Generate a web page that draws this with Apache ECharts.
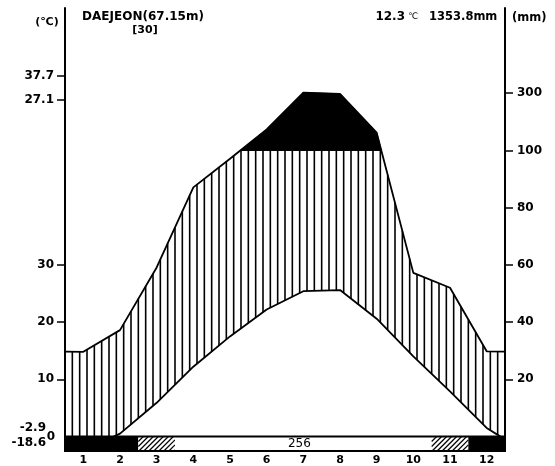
<!DOCTYPE html>
<html><head><meta charset="utf-8">
<script src="https://cdn.jsdelivr.net/npm/echarts@6/dist/echarts.min.js"></script>
<style>html,body{margin:0;padding:0;background:#fff}#c{width:555px;height:466px}</style>
</head><body><div id="c"></div>
<script>
// ---- data ----
const months = ['1','2','3','4','5','6','7','8','9','10','11','12'];
const temperature = [-2.5, 0.5, 5.9, 12.2, 17.5, 22.2, 25.4, 25.6, 20.6, 14.0, 7.9, 1.5];
const precipitation = [29.6, 37.2, 59.1, 87.1, 97.1, 173.4, 301.7, 298.0, 162.0, 57.2, 52.0, 29.8];
const frostClass = [2, 2, 1, 0, 0, 0, 0, 0, 0, 0, 1, 2]; // 2 = certain frost, 1 = probable frost
const frostFreeDays = '256';
const tempTicks = [10, 20, 30];
const precipTicks = [20, 40, 60, 80, 100, 300];
const tempHighLabels = ['37.7', '27.1'];
const tempLowLabels = ['-2.9', '-18.6'];
const station = 'DAEJEON(67.15m)';
const years = '[30]';
const annualTemp = '12.3';
const annualPrecip = '1353.8';

// ---- layout helpers ----
const Y_MIN = -2.53, Y_MAX = 74.9;
const highSlots = [63.0, 58.9];
const lowSlots = [1.5, -1.1];
const FONT = '"DejaVu Sans", sans-serif';
// precipitation scale: 20 mm = 10 degC, above 100 mm reduced 1:10
const pt = p => p <= 100 ? p / 2 : 50 + (p - 100) / 20;

function withEdges(arr) {
  const e = (arr[0] + arr[arr.length - 1]) / 2;
  const pts = [[0, e]];
  arr.forEach((v, i) => pts.push([i + 0.5, v]));
  pts.push([12, e]);
  return pts;
}
const tempPts = withEdges(temperature);
const precPts = withEdges(precipitation.map(pt));

function interp(pts, x) {
  for (let i = 0; i < pts.length - 1; i++) {
    const [x0, v0] = pts[i], [x1, v1] = pts[i + 1];
    if (x >= x0 && x <= x1) return v0 + (v1 - v0) * (x - x0) / (x1 - x0);
  }
  return pts[pts.length - 1][1];
}

const precTickVals = precipTicks.map(pt);
const chart = echarts.init(document.getElementById('c'), null, {renderer: 'canvas'});

const axisFont = {fontFamily: FONT, fontWeight: 'bold', fontSize: 12, color: '#000'};

chart.setOption({
  animation: false,
  backgroundColor: '#fff',
  grid: {left: 65, right: 50, top: 8, bottom: 15},
  xAxis: {
    type: 'value', min: 0, max: 12,
    axisLine: {show: false}, axisTick: {show: false}, splitLine: {show: false},
    axisLabel: {
      customValues: months.map((m, i) => i + 0.5),
      formatter: v => months[Math.floor(v)],
      fontFamily: FONT, fontWeight: 'bold', fontSize: 11, color: '#000', margin: 4
    }
  },
  yAxis: [
    {
      type: 'value', min: Y_MIN, max: Y_MAX, position: 'left',
      splitLine: {show: false},
      axisLine: {show: true, lineStyle: {color: '#000', width: 2}},
      axisTick: {show: true, customValues: highSlots.concat(tempTicks), length: 8, lineStyle: {color: '#000', width: 1.5}},
      axisLabel: Object.assign({
        customValues: highSlots.concat(tempTicks), margin: 11,
        formatter: v => { const i = highSlots.indexOf(v); return i >= 0 ? tempHighLabels[i] : String(v); }
      }, axisFont)
    },
    {
      type: 'value', min: Y_MIN, max: Y_MAX, position: 'left',
      splitLine: {show: false}, axisLine: {show: false}, axisTick: {show: false},
      axisLabel: Object.assign({
        customValues: lowSlots, margin: 19,
        formatter: v => tempLowLabels[lowSlots.indexOf(v)]
      }, axisFont)
    },
    {
      type: 'value', min: Y_MIN, max: Y_MAX, position: 'left',
      splitLine: {show: false}, axisLine: {show: false}, axisTick: {show: false},
      axisLabel: Object.assign({customValues: [0], margin: 10, formatter: () => '0'}, axisFont)
    },
    {
      type: 'value', min: Y_MIN, max: Y_MAX, position: 'right',
      splitLine: {show: false},
      axisLine: {show: true, lineStyle: {color: '#000', width: 2}},
      axisTick: {show: true, customValues: precTickVals, length: 8, lineStyle: {color: '#000', width: 1.5}},
      axisLabel: Object.assign({
        customValues: precTickVals, margin: 12,
        formatter: v => String(precipTicks[precTickVals.indexOf(v)])
      }, axisFont)
    }
  ],
  series: [
    { // humid hatching + very humid (>100 mm) black area
      type: 'custom', z: 1, data: [[0, 0]],
      renderItem: function (params, api) {
        const children = [];
        for (let k = 1; k < 60; k++) {
          const x = k * 0.2;
          const t = Math.max(interp(tempPts, x), 0);
          const p = Math.min(interp(precPts, x), 50);
          if (p > t) {
            const a = api.coord([x, t]), b = api.coord([x, p]);
            children.push({type: 'line', shape: {x1: a[0], y1: a[1], x2: b[0], y2: b[1]},
              style: {stroke: '#000', lineWidth: 1.6}});
          }
        }
        // polygon of the part above 100 mm, built only over the span where it exceeds
        const pts = [];
        for (let i = 0; i < precPts.length - 1; i++) {
          const [x0, v0] = precPts[i], [x1, v1] = precPts[i + 1];
          if (v0 >= 50) pts.push([x0, v0]);
          if ((v0 - 50) * (v1 - 50) < 0) pts.push([x0 + (50 - v0) * (x1 - x0) / (v1 - v0), 50]);
        }
        const last = precPts[precPts.length - 1];
        if (last[1] >= 50) pts.push(last);
        if (pts.length > 2) {
          children.push({type: 'polygon', shape: {points: pts.map(q => api.coord(q))},
            style: {fill: '#000', stroke: '#000', lineWidth: 1}});
        }
        return {type: 'group', children};
      }
    },
    {
      type: 'line', z: 3, data: tempPts, symbol: 'none',
      lineStyle: {color: '#000', width: 1.8}
    },
    {
      type: 'line', z: 3, data: precPts, symbol: 'none',
      lineStyle: {color: '#000', width: 1.8}
    },
    { // frost strip
      type: 'custom', z: 5, data: [[0, 0]],
      renderItem: function (params, api) {
        const children = [];
        const yTop = api.coord([0, 0])[1], yBot = api.coord([0, Y_MIN])[1];
        const h = yBot - yTop;
        // merge contiguous months of the same class
        const runs = [];
        frostClass.forEach((c, i) => {
          if (runs.length && runs[runs.length - 1].c === c) runs[runs.length - 1].e = i + 1;
          else runs.push({c, s: i, e: i + 1});
        });
        runs.forEach(r => {
          const xa = api.coord([r.s, 0])[0], xb = api.coord([r.e, 0])[0];
          children.push({type: 'rect', shape: {x: xa, y: yTop, width: xb - xa, height: h},
            style: {fill: r.c === 2 ? '#000' : '#fff', stroke: null}});
          if (r.c === 1) {
            for (let a = xa - h; a < xb; a += 5) {
              const xs = Math.max(xa, a), xe = Math.min(xb, a + h);
              if (xe <= xs) continue;
              children.push({type: 'line', shape: {x1: xs, y1: yBot - (xs - a), x2: xe, y2: yBot - (xe - a)},
                style: {stroke: '#000', lineWidth: 1.2}});
            }
          }
        });
        const x0 = api.coord([0, 0])[0], x12 = api.coord([12, 0])[0];
        children.push({type: 'rect', shape: {x: x0, y: yTop, width: x12 - x0, height: h},
          style: {fill: null, stroke: '#000', lineWidth: 2}});
        const white = frostClass.map((c, i) => c === 0 ? i : -1).filter(i => i >= 0);
        const mid = (white[0] + white[white.length - 1] + 1) / 2;
        const pc = api.coord([mid, 0]);
        children.push({type: 'text', x: pc[0] - 4, y: (yTop + yBot) / 2,
          style: {text: frostFreeDays, align: 'center', verticalAlign: 'middle',
            fontFamily: FONT, fontSize: 12, fill: '#000'}});
        return {type: 'group', children};
      }
    }
  ],
  graphic: [
    {type: 'text', x: 47, y: 22, style: {text: '(℃)', align: 'center', verticalAlign: 'middle',
      fontFamily: FONT, fontSize: 11, fontWeight: 'bold', fill: '#000'}},
    {type: 'text', x: 143, y: 17, style: {text: station, align: 'center', verticalAlign: 'middle',
      fontFamily: FONT, fontSize: 12, fontWeight: 'bold', fill: '#000'}},
    {type: 'text', x: 145, y: 30, style: {text: years, align: 'center', verticalAlign: 'middle',
      fontFamily: FONT, fontSize: 11, fontWeight: 'bold', fill: '#000'}},
    {type: 'text', x: 418, y: 17, style: {text: '{a|' + annualTemp + '}{b| ℃}', align: 'right', verticalAlign: 'middle',
      rich: {a: {fontFamily: FONT, fontSize: 12, fontWeight: 'bold', fill: '#000'},
             b: {fontFamily: FONT, fontSize: 9, fontWeight: 'normal', fill: '#000'}}}},
    {type: 'text', x: 429, y: 17, style: {text: annualPrecip + 'mm', align: 'left', verticalAlign: 'middle',
      fontFamily: FONT, fontSize: 11.5, fontWeight: 'bold', fill: '#000'}},
    {type: 'text', x: 512, y: 18, style: {text: '(mm)', align: 'left', verticalAlign: 'middle',
      fontFamily: FONT, fontSize: 11.5, fontWeight: 'bold', fill: '#000'}}
  ]
});
</script>
</body></html>
